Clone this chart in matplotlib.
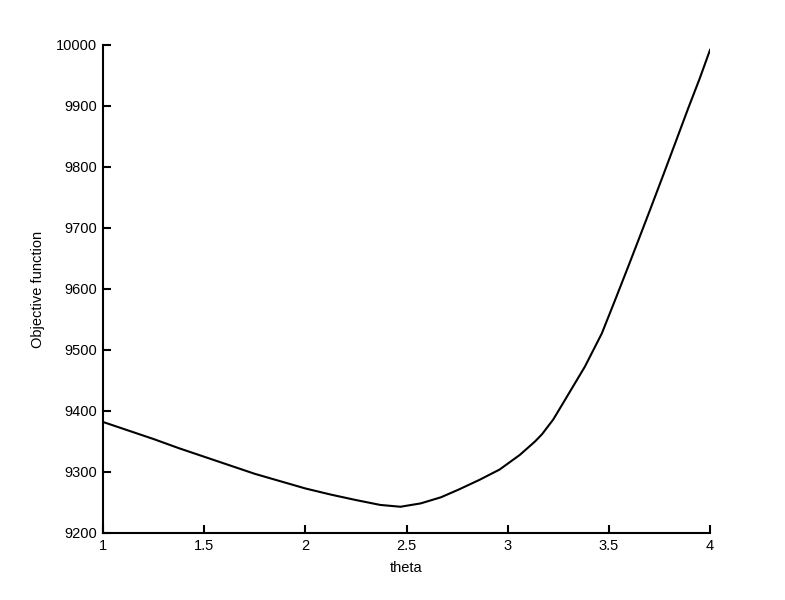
import matplotlib
matplotlib.use("Agg")
import matplotlib.pyplot as plt

theta = [1.0, 1.125, 1.25, 1.375, 1.5, 1.625, 1.75, 1.875, 2.0, 2.125, 2.25, 2.37, 2.47,
         2.57, 2.67, 2.76, 2.86, 2.96, 3.06, 3.135, 3.17, 3.225, 3.283, 3.382, 3.465, 3.531,
         3.596, 3.646, 3.705, 3.769, 3.83, 3.893, 3.95, 4.0]
objective = [9382, 9368, 9354, 9339, 9325, 9311, 9297, 9285, 9273, 9263, 9254, 9246, 9243,
             9248.5, 9258.5, 9271.5, 9287, 9304, 9328, 9350, 9362, 9386, 9418, 9473, 9527, 9582,
             9637, 9680, 9731, 9787, 9841, 9897, 9946, 9992]

xticks = [1, 1.5, 2, 2.5, 3, 3.5, 4]
yticks = [9200, 9300, 9400, 9500, 9600, 9700, 9800, 9900, 10000]

plt.rcParams['font.family'] = ['Liberation Sans', 'DejaVu Sans']
fig = plt.figure(figsize=(7.85, 6.0), dpi=100)
ax = fig.add_axes([0.1312, 0.1117, 0.7733, 0.8133])
ax.plot(theta, objective, color='black', linewidth=1.5)
ax.set_xlim(1, 4)
ax.set_ylim(9200, 10000)
ax.set_xticks(xticks)
ax.set_xticklabels(['1', '1.5', '2', '2.5', '3', '3.5', '4'])
ax.set_yticks(yticks)
ax.set_yticklabels([str(v) for v in yticks])
for s in ['top', 'right']:
    ax.spines[s].set_visible(False)
for s in ['left', 'bottom']:
    ax.spines[s].set_linewidth(1.5)
ax.tick_params(direction='in', length=6, width=1.5, labelsize=10.5, colors='black', pad=4)
ax.set_xlabel('theta', fontsize=10.5, labelpad=6)
ax.set_ylabel('Objective function', fontsize=10.5, labelpad=8)
fig.savefig('out.png', dpi=100)
